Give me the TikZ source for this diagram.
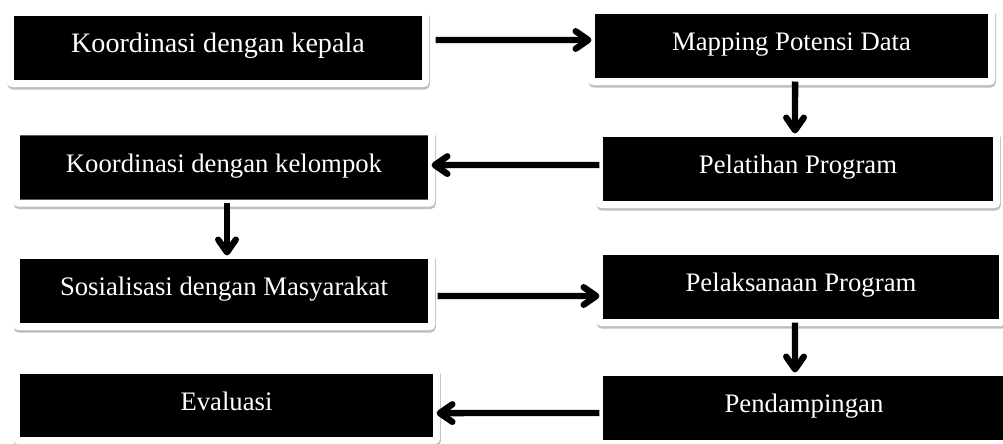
\documentclass[tikz,border=0pt]{standalone}
\usepackage{fontspec}
\setmainfont{Liberation Serif}
\usetikzlibrary{arrows.meta,shadows}

\begin{document}
\begin{tikzpicture}[x=0.025cm, y=-0.025cm,
  block/.style={fill=black, text=white, draw=white, line width=0.175cm, rounded corners=1.5pt,
    minimum width=#1, minimum height=1.775cm, inner sep=0pt, outer sep=0pt,
    text height=13pt, text depth=6.5pt, font=\fontsize{19}{23}\selectfont,
    drop shadow={shadow xshift=0.5pt, shadow yshift=-1.8pt, opacity=0.25, fill=black, draw=black, line width=0.175cm}},
  flow/.style={line width=4.5pt, -{Straight Barb[length=9pt, width=12.5pt, round]}}]
\useasboundingbox (0,0) rectangle (1003,444);
\node [block=10.375cm, font=\fontsize{20}{24}\selectfont] (kepala) at (218,48) {Koordinasi dengan kepala};
\node [block=10cm] (mapping) at (791.5,46) {Mapping Potensi Data};
\node [block=9.925cm] (pelatihan) at (798,169) {Pelatihan Program};
\node [block=10.375cm] (kelompok) at (224,167.5) {Koordinasi dengan kelompok};
\node [block=10.375cm] (sosialisasi) at (224,291) {Sosialisasi dengan Masyarakat};
\node [block=10.075cm] (pelaksanaan) at (801,287) {Pelaksanaan Program};
\node [block=10.225cm] (pendampingan) at (804,408) {Pendampingan};
\node [block=10.5cm, minimum height=1.75cm] (evaluasi) at (226.5,405.5) {Evaluasi};
\draw [flow, shorten <=0.25cm] ([yshift=0.2cm]kepala.east) -- ([yshift=0.15cm]mapping.west);
\draw [flow] ([xshift=0.09cm]mapping.south) -- ([xshift=-0.075cm]pelatihan.north);
\draw [flow] ([yshift=0.1cm]pelatihan.west) -- ([yshift=0.06cm]kelompok.east);
\draw [flow] ([xshift=0.075cm]kelompok.south) -- ([xshift=0.075cm]sosialisasi.north);
\draw [flow, shorten <=0.15cm] ([yshift=-0.125cm]sosialisasi.east) -- ([yshift=-0.225cm]pelaksanaan.west);
\draw [flow] ([xshift=-0.15cm]pelaksanaan.south) -- ([xshift=-0.225cm]pendampingan.north);
\draw [flow] ([yshift=-0.125cm]pendampingan.west) -- ([yshift=-0.19cm]evaluasi.east);
\end{tikzpicture}
\end{document}
